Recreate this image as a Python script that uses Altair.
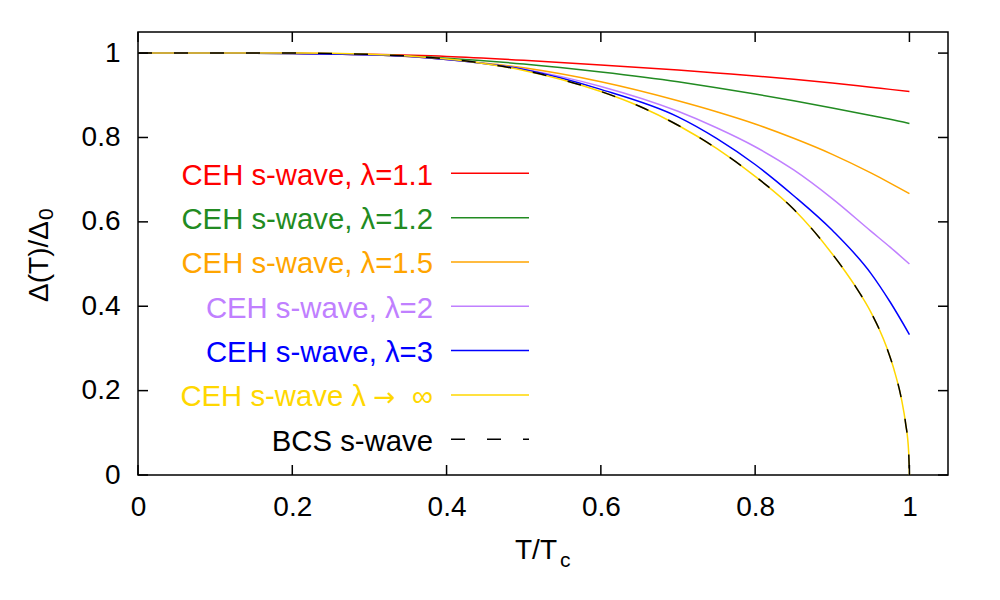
import altair as alt
import pandas as pd

# ---------------- data ----------------
T_GRID = [0.0, 0.1, 0.2, 0.3, 0.4, 0.5, 0.6, 0.7, 0.75, 0.8, 0.85, 0.9, 0.95, 0.975, 1.0]
D_L11 = [1.0, 1.0, 0.9995, 0.997, 0.992, 0.983, 0.972, 0.960, 0.953, 0.946, 0.938, 0.929, 0.919, 0.914, 0.909]
D_L12 = [1.0, 1.0, 0.999, 0.996, 0.988, 0.974, 0.955, 0.932, 0.918, 0.903, 0.887, 0.870, 0.852, 0.843, 0.833]
D_L15 = [1.0, 1.0, 0.999, 0.996, 0.985, 0.965, 0.932, 0.887, 0.861, 0.832, 0.798, 0.760, 0.716, 0.692, 0.667]
D_L2 = [1.0, 1.0, 0.999, 0.996, 0.985, 0.962, 0.921, 0.862, 0.823, 0.778, 0.723, 0.655, 0.578, 0.540, 0.500]
D_L3 = [1.0, 1.0, 0.999, 0.996, 0.985, 0.961, 0.914, 0.849, 0.798, 0.736, 0.662, 0.580, 0.478, 0.410, 0.333]

T_FINE = [0.0, 0.1, 0.2, 0.3, 0.35, 0.4, 0.45, 0.5, 0.55, 0.6, 0.65, 0.7, 0.75, 0.8,
          0.85, 0.9, 0.93, 0.95, 0.97, 0.98, 0.99, 0.995, 0.999, 1.0]
D_LINF = [1.0, 1.0, 1.0, 0.997, 0.993, 0.986, 0.975, 0.959, 0.937, 0.909, 0.874, 0.829, 0.774, 0.708,
          0.630, 0.524, 0.447, 0.386, 0.305, 0.250, 0.177, 0.123, 0.055, 0.0]
D_BCS = [1.0, 1.0, 1.0, 0.997, 0.993, 0.986, 0.975, 0.959, 0.937, 0.909, 0.874, 0.829, 0.774, 0.708,
         0.630, 0.524, 0.447, 0.386, 0.305, 0.250, 0.177, 0.123, 0.055, 0.0]

LABELS = ["CEH s-wave, λ=1.1", "CEH s-wave, λ=1.2", "CEH s-wave, λ=1.5", "CEH s-wave, λ=2",
          "CEH s-wave, λ=3", "CEH s-wave λ → ∞", "BCS s-wave"]
COLORS = ["#ff0000", "#228b22", "#ffa500", "#c080ff", "#0000ff", "#ffd700", "#000000"]

X_TICKS = [0, 0.2, 0.4, 0.6, 0.8, 1.0]
Y_TICKS = [0, 0.2, 0.4, 0.6, 0.8, 1.0]

SERIES = [
    (T_GRID, D_L11), (T_GRID, D_L12), (T_GRID, D_L15), (T_GRID, D_L2),
    (T_GRID, D_L3), (T_FINE, D_LINF), (T_FINE, D_BCS),
]

# ---------------- layout ----------------
W, H = 810, 443
FONT = "Liberation Sans"
FS = 28
LFS = 29.3
DASH = [14, 22]

xs = alt.Scale(domain=[0, 1.05], nice=False, zero=False)
ys = alt.Scale(domain=[0, 1.05], nice=False, zero=False)

x_axis = alt.Axis(values=X_TICKS, format="~g", title="", ticks=False, tickSize=0, domain=False,
                  grid=False, labelFont=FONT, labelFontSize=FS, labelColor="black",
                  labelPadding=18, labelFlush=False, labelOverlap=False)
y_axis = alt.Axis(values=Y_TICKS, format="~g", title="", ticks=False, tickSize=0, domain=False,
                  grid=False, labelFont=FONT, labelFontSize=FS, labelColor="black",
                  labelPadding=18, labelOverlap=False)

layers = []

# curves
for i, (tl, dl) in enumerate(SERIES):
    df = pd.DataFrame({"t": tl, "d": dl})
    kw = dict(color=COLORS[i], strokeWidth=1.5, interpolate="monotone")
    if i == len(SERIES) - 1:
        kw["strokeDash"] = DASH
    layers.append(
        alt.Chart(df).mark_line(**kw).encode(
            x=alt.X("t:Q", scale=xs, axis=x_axis),
            y=alt.Y("d:Q", scale=ys, axis=y_axis),
        )
    )

# inward ticks on all four sides
xt = pd.DataFrame({"t": X_TICKS})
yt = pd.DataFrame({"d": Y_TICKS})
TL = 10
layers.append(alt.Chart(xt).mark_rule(color="black", strokeWidth=1.5).encode(
    x=alt.X("t:Q", scale=xs, axis=x_axis), y=alt.value(H), y2=alt.value(H - TL)))
layers.append(alt.Chart(xt).mark_rule(color="black", strokeWidth=1.5).encode(
    x=alt.X("t:Q", scale=xs, axis=x_axis), y=alt.value(0), y2=alt.value(TL)))
layers.append(alt.Chart(yt).mark_rule(color="black", strokeWidth=1.5).encode(
    y=alt.Y("d:Q", scale=ys, axis=y_axis), x=alt.value(0), x2=alt.value(TL)))
layers.append(alt.Chart(yt).mark_rule(color="black", strokeWidth=1.5).encode(
    y=alt.Y("d:Q", scale=ys, axis=y_axis), x=alt.value(W), x2=alt.value(W - TL)))


def txt(s, x, y, size, color="black", angle=0, align="left", font=FONT):
    kw = dict(align=align, baseline="alphabetic", font=font, fontSize=size, color=color)
    if angle:
        kw["angle"] = angle
    return alt.Chart(pd.DataFrame({"s": [s]})).mark_text(**kw).encode(
        x=alt.value(x), y=alt.value(y), text="s:N")


# legend (inside plot, left)
LEG_Y0, LEG_DY = 141.3, 44.33
for i, lab in enumerate(LABELS):
    yy = LEG_Y0 + LEG_DY * i
    if "→" in lab:
        head, tail = lab.split("→")
        layers.append(txt(head.strip(), 228, yy + 11.5, LFS, COLORS[i], align="right"))
        layers.append(txt("→", 246, yy + 11.5, LFS - 3, COLORS[i], align="center", font="DejaVu Sans"))
        layers.append(txt(tail.strip(), 295, yy + 11.5, LFS, COLORS[i], align="right"))
    else:
        layers.append(txt(lab, 295, yy + 11.5, LFS, COLORS[i], align="right"))
    rkw = dict(color=COLORS[i], strokeWidth=1.5)
    if i == len(LABELS) - 1:
        rkw["strokeDash"] = DASH
    layers.append(
        alt.Chart(pd.DataFrame({"label": [lab]})).mark_rule(**rkw).encode(
            x=alt.value(313), x2=alt.value(391), y=alt.value(yy)
        )
    )

# axis titles with subscripts
layers.append(txt("T/T", 377, 527, FS))
layers.append(txt("c", 422, 535, 21))
layers.append(txt("Δ(T)/Δ", -90, 270, FS, angle=270))
layers.append(txt("0", -85, 188, 21, angle=270))

chart = alt.layer(*layers).properties(
    width=W, height=H,
    autosize=alt.AutoSizeParams(type="none"),
    padding={"left": 130, "top": 24, "right": 42, "bottom": 100},
).configure_view(stroke="black", strokeWidth=1.5)

chart.save("out.html", embed_options={"renderer": "svg", "actions": False})
